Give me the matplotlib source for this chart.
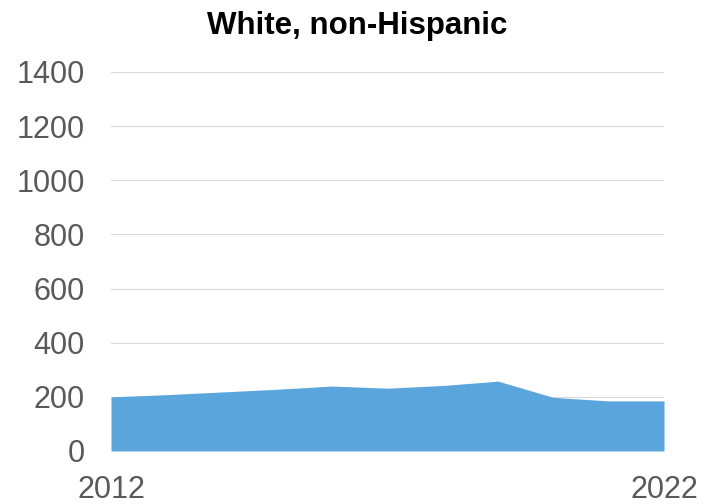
import matplotlib
matplotlib.use("Agg")
import matplotlib.pyplot as plt

years = [2012, 2013, 2014, 2015, 2016, 2017, 2018, 2019, 2020, 2021, 2022]
values = [200, 208, 218, 228, 240, 232, 242, 258, 198, 185, 185]
yticks = [0, 200, 400, 600, 800, 1000, 1200, 1400]
xticks = [2012, 2022]
title = "White, non-Hispanic"

plt.rcParams['font.family'] = ['Liberation Sans', 'DejaVu Sans']
fig = plt.figure(figsize=(7.05, 5.04), dpi=100)
ax = fig.add_axes([111/705, 1 - 451/504, (664-111)/705, (451-72)/504])
ax.fill_between(years, values, 0, color='#5aa5db', linewidth=0)
ax.set_xlim(2012, 2022)
ax.set_ylim(0, 1400)
ax.set_yticks(yticks)
ax.set_xticks(xticks)
ax.grid(axis='y', color='#d9d9d9', linewidth=0.8)
ax.set_axisbelow(True)
for s in ax.spines.values():
    s.set_visible(False)
ax.tick_params(length=0, labelsize=22, labelcolor='#595959')
ax.tick_params(axis='y', pad=19)
ax.tick_params(axis='x', pad=17)
fig.text(357/705, 1 - 26/504, title, ha='center', va='center', fontsize=22.5, fontweight='bold')
fig.savefig('out.png', dpi=100)
